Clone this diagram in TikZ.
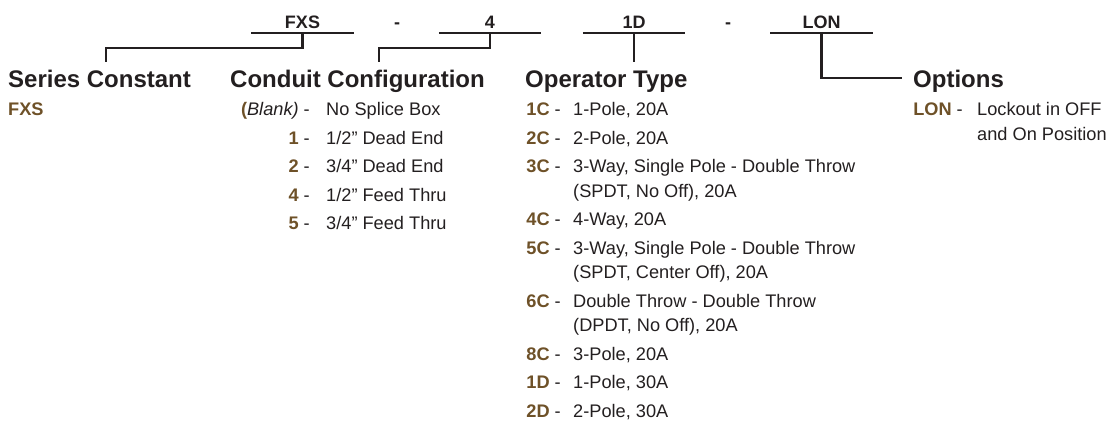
\documentclass[tikz,border=0pt]{standalone}
\usepackage{fontspec}
\setmainfont{Liberation Sans}
\usetikzlibrary{positioning,calc}
\definecolor{ink}{HTML}{231F20}
\definecolor{umber}{HTML}{6E5128}
\newcommand{\headsize}{\fontsize{24}{28}\selectfont\bfseries}
\newcommand{\bodysize}{\fontsize{18.2}{24.5}\selectfont}
\newcommand{\partsize}{\fontsize{18}{22}\selectfont\bfseries}
\newcommand{\cd}[1]{\textcolor{umber}{\textbf{#1}}}
\newcommand{\desclines}[1]{\begin{tabular}[t]{@{}l@{}}#1\end{tabular}}
\tikzset{
  head/.style={anchor=base west,inner sep=0pt,font=\headsize,text=ink},
  part/.style={anchor=base,inner xsep=0pt,inner ysep=5pt,text height=13pt,text depth=0pt,minimum width=102pt,font=\partsize,text=ink},
  sep/.style={anchor=base,inner sep=0pt,font=\partsize,text=ink},
  code/.style={anchor=base east,inner sep=0pt,font=\bodysize,text=ink},
  desc/.style={anchor=base west,inner sep=0pt,font=\bodysize,text=ink},
  ln/.style={draw=ink,line width=2.2pt},
}
\begin{document}
\begin{tikzpicture}[x=1pt,y=-1pt]
  \useasboundingbox (0,0) rectangle (1117,421);
  % ── part number ──
  \node[part] (p-fxs) at (302.5,28) {FXS};
  \node[sep] (s-1) at (397,28) {-};
  \node[part] (p-4) at (490,28) {4};
  \node[part] (p-1d) at (634,28) {1D};
  \node[sep] (s-2) at (728,28) {-};
  \node[part] (p-lon) at (821.5,28) {LON};
  \foreach \p in {p-fxs,p-4,p-1d,p-lon} \draw[ln] (\p.south west) -- (\p.south east);

  % ── headings ──
  \node[head] (h-series) at (8,87) {Series Constant};
  \node[head] (h-cond) at (230,87) {Conduit Configuration};
  \node[head] (h-op) at (525,87) {Operator Type};
  \node[head] (h-opt) at (913,87) {Options};

  % ── leaders from the code down to its heading ──
  \coordinate (k-series) at (106,48);
  \coordinate (k-cond) at (379,48);
  \coordinate (k-opt) at (902,78);
  \draw[ln,shorten >=7.5pt] (p-fxs.south) |- (k-series) -- (k-series |- h-series.north);
  \draw[ln,shorten >=7.5pt] (p-4.south) |- (k-cond) -- (k-cond |- h-cond.north);
  \draw[ln,shorten >=8pt] (p-1d.south) -- (p-1d.south |- h-op.north);
  \draw[ln] (p-lon.south) |- (k-opt);

  % ── series ──
  \node[desc] (sc-fxs) at (8,115.5) {\cd{FXS}};

  % ── conduit ──
  \foreach \k/\t [count=\i from 0] in {{\cd{(}\textit{Blank)}}/{No Splice Box},\cd{1}/{1/2” Dead End},\cd{2}/{3/4” Dead End},\cd{4}/{1/2” Feed Thru},\cd{5}/{3/4” Feed Thru}} {
    \node[code] (cc-\i) at (310,115.5+28.5*\i) {\k\ -};
    \node[desc] (cd-\i) at (326,115.5+28.5*\i) {\t};
  }

  % ── operator ──
  \foreach \k/\t/\y in {1C/{1-Pole, 20A}/115.5,2C/{2-Pole, 20A}/144,3C/{3-Way, Single Pole - Double Throw\\(SPDT, No Off), 20A}/172.5,4C/{4-Way, 20A}/225.5,5C/{3-Way, Single Pole - Double Throw\\(SPDT, Center Off), 20A}/254,6C/{Double Throw - Double Throw\\(DPDT, No Off), 20A}/307,8C/{3-Pole, 20A}/360,1D/{1-Pole, 30A}/388.5,2D/{2-Pole, 30A}/417} {
    \node[code] (oc-\k) at (561,\y) {\cd{\k}\ -};
    \node[desc] (od-\k) at (573,\y) {\desclines{\t}};
  }

  % ── options ──
  \node[code] (xc-lon) at (963,115.5) {\cd{LON}\ -};
  \node[desc] (xd-lon) at (977,115.5) {\desclines{Lockout in OFF\\and On Position}};
\end{tikzpicture}
\end{document}
